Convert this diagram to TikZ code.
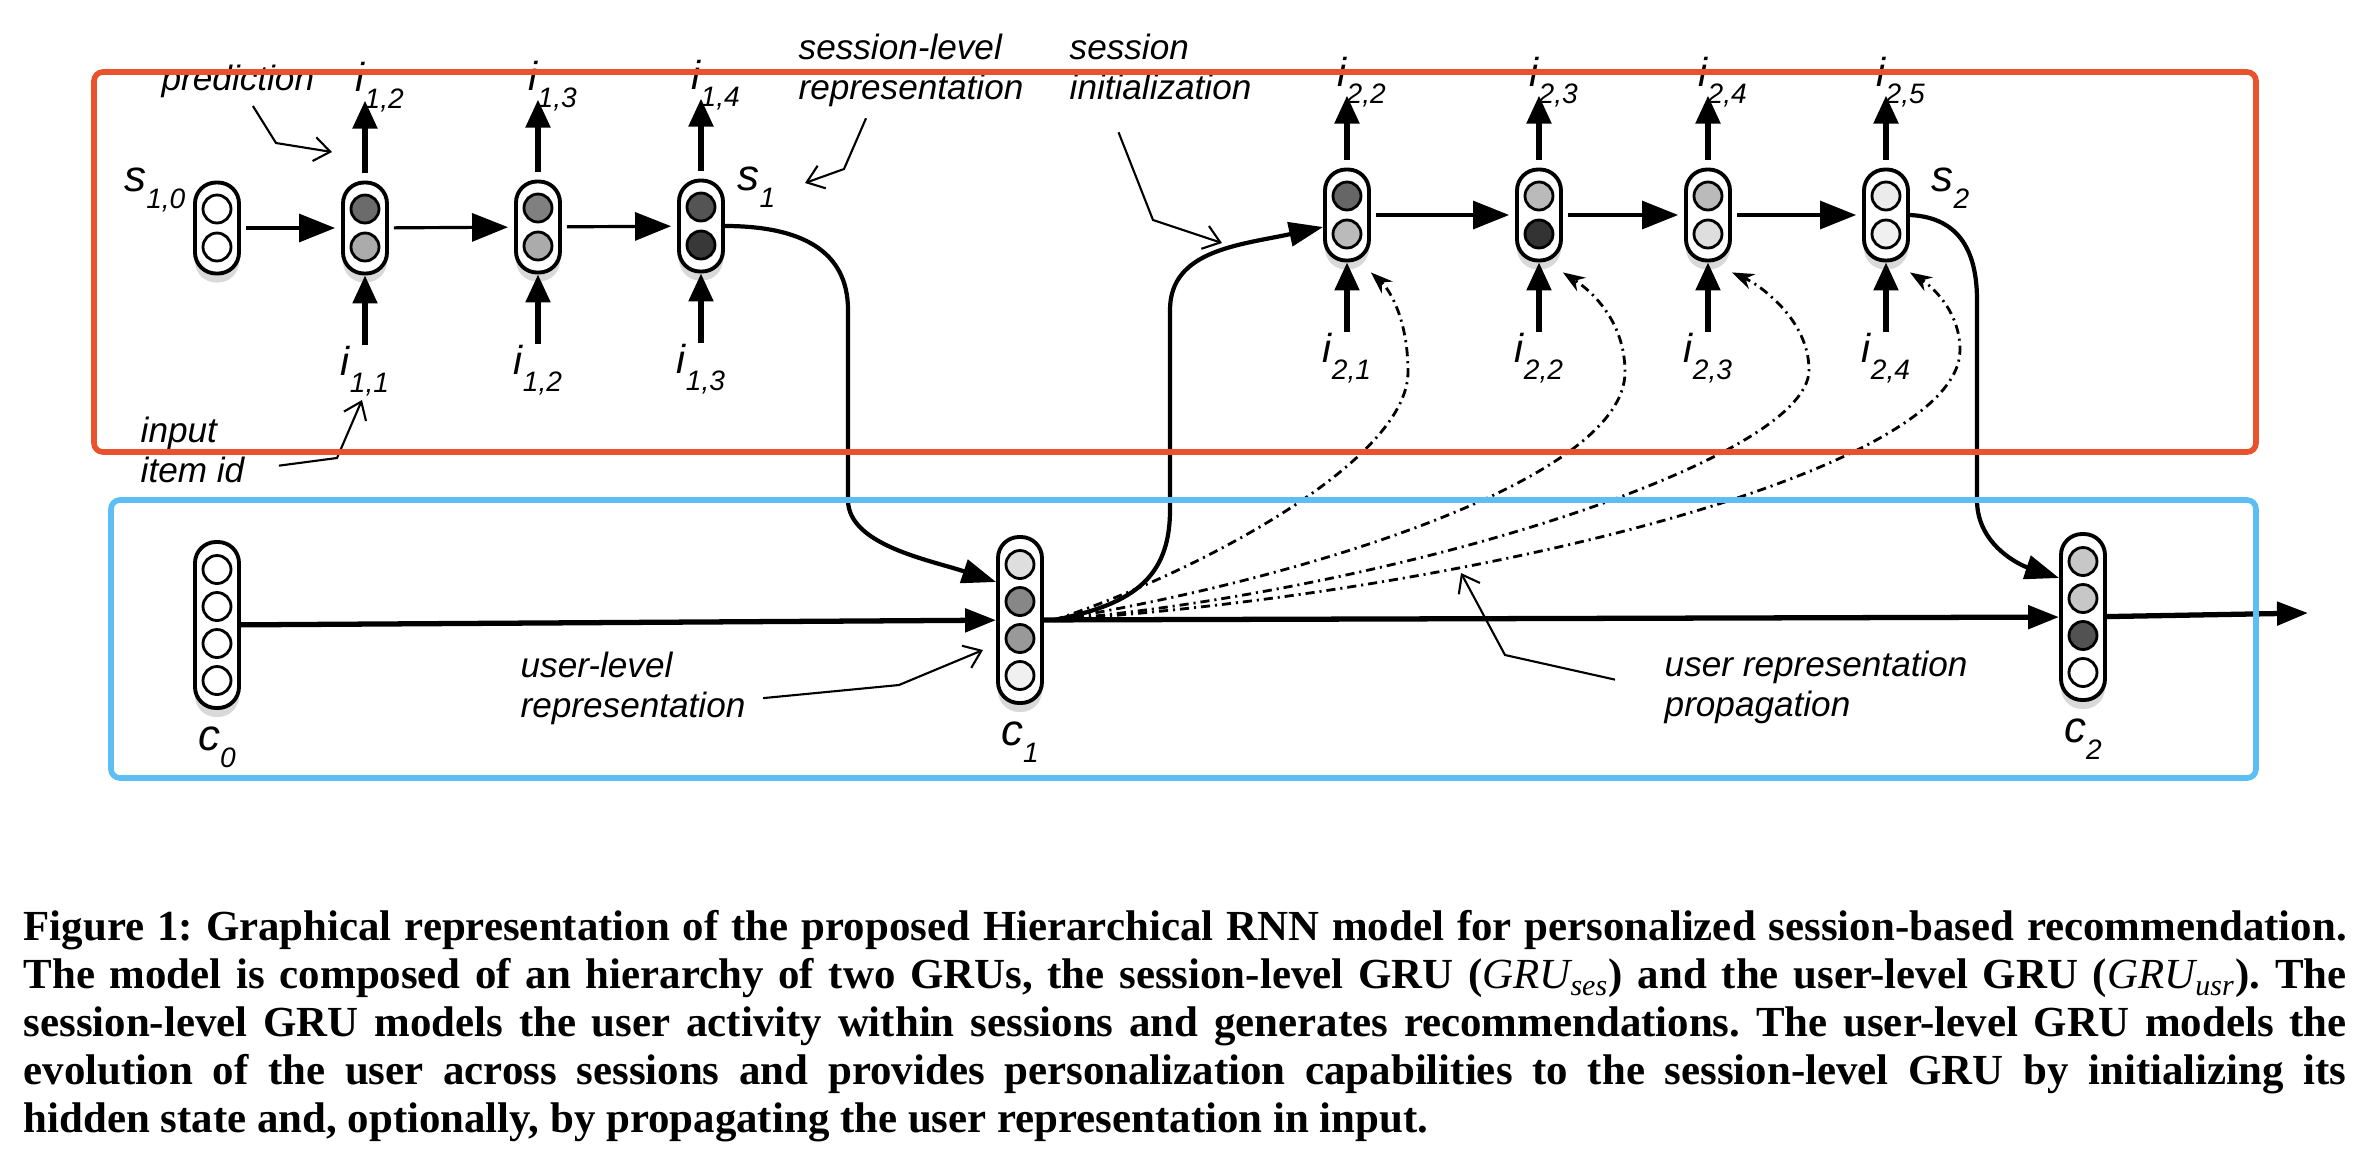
\documentclass[tikz,border=0pt]{standalone}
\usepackage{fontspec}
\setmainfont{Liberation Serif}
\setsansfont{Liberation Sans}
\usetikzlibrary{arrows.meta,shadows}
\definecolor{sesred}{RGB}{233,82,44}
\definecolor{usrblue}{RGB}{92,190,242}
\newcommand{\lowsub}[2]{#1\raisebox{-4.8pt}{\fontsize{8}{8}\selectfont #2}}
\frenchspacing

\begin{document}
\begin{tikzpicture}[x=0.1mm,y=0.1mm,
    pill/.style={draw,line width=1.1pt,fill=white,rounded corners=2.1mm,minimum width=4.4mm,inner sep=0pt,
      drop shadow={opacity=0.3,shadow xshift=0mm,shadow yshift=-0.9mm}},
    sesnode/.style={pill,minimum height=9.1mm},
    usrnode/.style={pill,minimum height=16.6mm},
    cell/.style={circle,draw,line width=0.8pt,minimum size=2.8mm,inner sep=0pt},
    ilab/.style={font=\sffamily\itshape\fontsize{11.5}{11.5}\selectfont,inner sep=0pt},
    slab/.style={font=\sffamily\itshape\fontsize{12.5}{12.5}\selectfont,inner sep=0pt},
    note/.style={font=\sffamily\itshape\fontsize{10}{11.4}\selectfont,align=left,inner sep=0pt},
    pointer/.style={line width=0.6pt,-{Straight Barb[length=1.6mm,width=2.4mm]}},
    seqarrow/.style={line width=0.9pt,-{Triangle[length=3.6mm,width=2.8mm]},shorten <=0.5mm,shorten >=0.6mm},
    vertarrow/.style={line width=1.5pt,-{Triangle[length=2.8mm,width=2.4mm]}},
    usrarrow/.style={line width=1.5pt,-{Triangle[length=3.1mm,width=2.3mm]}},
    link/.style={line width=1.2pt,-{Triangle[length=3.4mm,width=2.4mm]}},
    propagate/.style={line width=0.8pt,dash pattern=on 2.6pt off 1.4pt on 0.6pt off 1.4pt,
      -{Stealth[length=2.2mm,width=1.6mm]}}]
    \useasboundingbox (0,0) rectangle (2372,-1170);

    % Session-level GRU
    \foreach \n/\x/\y/\ca/\cb in {s10/217/228/white/white, n11/365/228/black!58/black!33,
        n12/538/227/black!50/black!33, n13/701/226/black!67/black!78,
        n21/1347/215/black!60/black!27, n22/1539/215/black!27/black!80,
        n23/1708/215/black!27/black!13, n24/1886/215/black!8/black!6}{
      \node[sesnode] (\n) at (\x,-\y) {};
      \node[cell,fill=\ca] (\n-up) at ([yshift=1.9mm]\n.center) {};
      \node[cell,fill=\cb] (\n-dn) at ([yshift=-1.9mm]\n.center) {};
    }
    \foreach \a/\b in {s10/n11, n11/n12, n12/n13, n21/n22, n22/n23, n23/n24}
      \draw[seqarrow] (\a) -- (\b);

    % input items and predictions
    \foreach \n/\s/\b/\t/\h in {n11/1/1/2/8mm, n12/1/2/3/8mm, n13/1/3/4/8mm,
        n21/2/1/2/7.2mm, n22/2/2/3/7.2mm, n23/2/3/4/7.2mm, n24/2/4/5/7.2mm}{
      \node[ilab,anchor=north] (\n-in) at ([yshift=-7mm]\n.south) {\lowsub{i}{\s,\b}};
      \draw[vertarrow] (\n-in) -- (\n);
      \coordinate (\n-tip) at ([yshift=\h]\n.north);
      \draw[vertarrow,shorten <=0.8mm] (\n.north) -- (\n-tip);
      \node[ilab,anchor=base west] (\n-out) at ([xshift=-1mm,yshift=0.9mm]\n-tip) {\lowsub{i}{\s,\t}};
    }
    \node[slab,anchor=base east] (s10-lab) at ([xshift=-0.7mm,yshift=-1.1mm]s10.north west) {\lowsub{s}{1,0}};
    \node[slab,anchor=base west] (n13-lab) at ([xshift=1.2mm,yshift=-1.2mm]n13.north east) {\lowsub{s}{1}};
    \node[slab,anchor=base west] (n24-lab) at ([xshift=2.1mm,yshift=-2.4mm]n24.north east) {\lowsub{s}{2}};

    % User-level GRU
    \foreach \n/\k/\x/\y/\ca/\cb/\cc/\cd in {c0/0/217/625/white/white/white/white,
        c1/1/1020/620/black!13/black!47/black!40/black!6,
        c2/2/2083/617/black!22/black!22/black!68/white}{
      \node[usrnode] (\n) at (\x,-\y) {};
      \node[cell,fill=\ca] (\n-1) at ([yshift=5.55mm]\n.center) {};
      \node[cell,fill=\cb] (\n-2) at ([yshift=1.85mm]\n.center) {};
      \node[cell,fill=\cc] (\n-3) at ([yshift=-1.85mm]\n.center) {};
      \node[cell,fill=\cd] (\n-4) at ([yshift=-5.55mm]\n.center) {};
      \node[slab,anchor=base] (\n-lab) at ([yshift=-4.1mm]\n.south) {\lowsub{c}{\k}};
    }
    \coordinate (c-next) at (2308,-613);
    \draw[usrarrow] (c0) -- (c1);
    \draw[usrarrow] (c1) -- (c2);
    \draw[usrarrow] (c2) -- (c-next);

    % Session representation and initialization
    \draw[link] (n13.east) .. controls (800,-226) and (848,-250) .. (848,-310) -- (848,-500)
        .. controls (848,-545) and (930,-560) .. ([yshift=3.8mm]c1.west);
    \draw[link] ([xshift=1mm]c1.east) .. controls (1130,-605) and (1170,-580) .. (1170,-510) -- (1170,-310)
        .. controls (1170,-250) and (1240,-245) .. ([yshift=-1.2mm]n21.west);
    \draw[link] (n24.east) .. controls (1950,-217) and (1977,-240) .. (1977,-300) -- (1977,-500)
        .. controls (1977,-545) and (2020,-565) .. ([yshift=3.9mm]c2.west);

    % User representation propagation
    \draw[propagate] ([xshift=1mm]c1.east) .. controls (1200,-572) and (1408,-460) .. (1408,-372)
        .. controls (1408,-320) and (1390,-290) .. ([yshift=-1mm]n21.south east);
    \draw[propagate] ([xshift=1mm]c1.east) .. controls (1300,-580) and (1625,-480) .. (1625,-372)
        .. controls (1625,-320) and (1590,-290) .. ([yshift=-1mm]n22.south east);
    \draw[propagate] ([xshift=1mm]c1.east) .. controls (1400,-590) and (1809,-460) .. (1809,-370)
        .. controls (1809,-320) and (1760,-285) .. ([yshift=-1mm]n23.south east);
    \draw[propagate] ([xshift=1mm]c1.east) .. controls (1480,-592) and (1960,-470) .. (1960,-350)
        .. controls (1960,-310) and (1930,-285) .. ([yshift=-1mm]n24.south east);

    % Annotations
    \node[note,anchor=base west] (pred) at (161,-90) {prediction};
    \node[note,anchor=north west] (inp) at (140,-416) {input\\item id};
    \node[note,anchor=north west] (slr) at (798,-33) {session-level\\representation};
    \node[note,anchor=north west] (sin) at (1069,-33) {session\\initialization};
    \node[note,anchor=north west] (ulr) at (520,-651) {user-level\\representation};
    \node[note,anchor=north west] (urp) at (1664,-650) {user representation\\propagation};
    \coordinate (pred-end) at (332,-152);
    \coordinate (inp-end) at (362,-400);
    \coordinate (slr-end) at (805,-183);
    \coordinate (sin-end) at (1222,-243);
    \coordinate (ulr-end) at (983,-650);
    \coordinate (urp-end) at (1461,-573);
    \draw[pointer] ([xshift=1.5mm,yshift=-0.8mm]pred.south) -- (276,-143) -- (pred-end);
    \draw[pointer] ([xshift=3.4mm,yshift=-1.6mm]inp.east) -- (337,-458) -- (inp-end);
    \draw[pointer] ([xshift=-4.5mm,yshift=-1.1mm]slr.south) -- (844,-169) -- (slr-end);
    \draw[pointer] ([xshift=-4.2mm,yshift=-3.2mm]sin.south) -- (1153,-220) -- (sin-end);
    \draw[pointer] ([xshift=1.7mm,yshift=-1mm]ulr.east) -- (899,-685) -- (ulr-end);
    \draw[pointer] ([xshift=-4.9mm,yshift=0.75mm]urp.west) -- (1505,-655) -- (urp-end);

    % Frames
    \draw[sesred,line width=1.6pt,rounded corners=0.9mm] (94,-72) rectangle (2256,-452);
    \draw[usrblue,line width=1.6pt,rounded corners=0.9mm] (111,-500) rectangle (2256,-778);

    % Caption
    \node[anchor=north west,text width=232.3mm,align=justify,inner sep=0pt,
        font=\bfseries\fontsize{12.2}{13.65}\selectfont] (caption) at (23,-910)
      {Figure 1: Graphical representation of the proposed Hierarchical RNN model for personalized session-based recommendation.\linebreak
       The model is composed of an hierarchy of two GRUs, the session-level GRU ($\mathit{GRU}_{\mathit{ses}}$) and the user-level GRU ($\mathit{GRU}_{\mathit{usr}}$). The\linebreak
       session-level GRU models the user activity within sessions and generates recommendations. The user-level GRU models the\linebreak
       evolution of the user across sessions and provides personalization capabilities to the session-level GRU by initializing its\linebreak
       hidden state and, optionally, by propagating the user representation in input.};
\end{tikzpicture}
\end{document}
